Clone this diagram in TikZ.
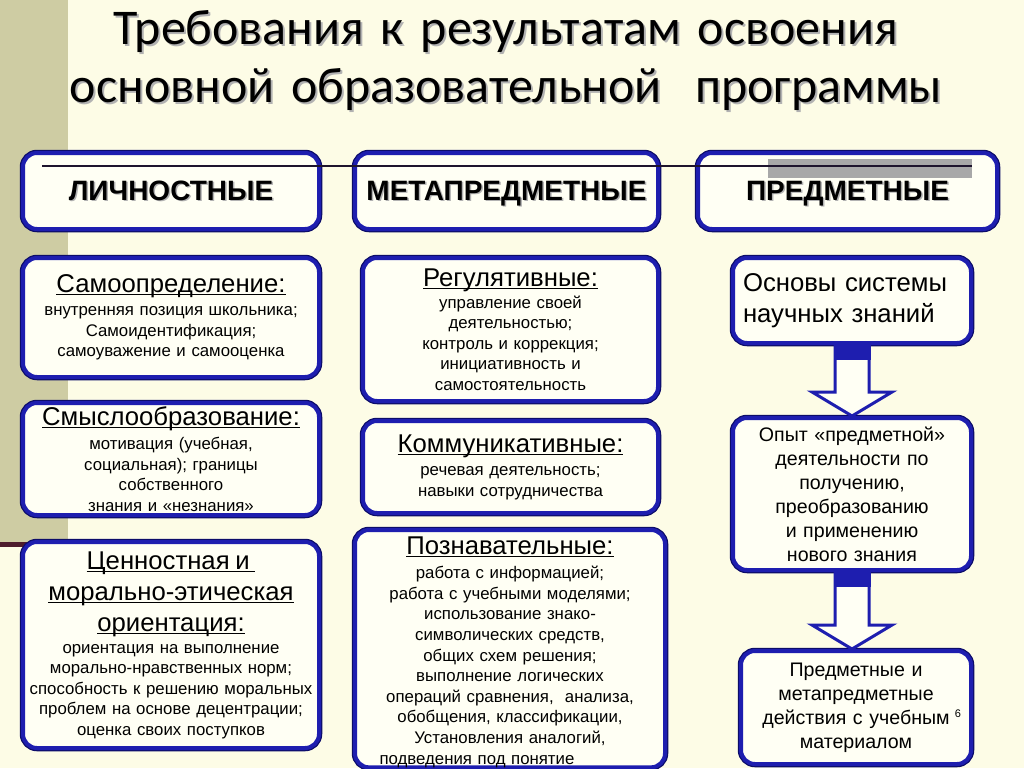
\documentclass[tikz,border=0pt]{standalone}
\usepackage{fontspec}
\setmainfont{Liberation Sans}
\newfontfamily\judulfont{Carlito}
\usetikzlibrary{calc}

\definecolor{latar}{RGB}{253,252,230}
\definecolor{pita}{RGB}{206,204,163}
\definecolor{merah}{RGB}{78,28,44}
\definecolor{biru}{RGB}{30,30,175}
\definecolor{birutua}{RGB}{12,12,105}
\definecolor{isi}{RGB}{255,255,244}
\definecolor{abu}{RGB}{168,168,168}
\definecolor{gelap}{RGB}{30,20,45}

\newcommand{\bayang}[2][1.5pt]{\leavevmode\makebox[0pt][l]{\kern#1\raisebox{-#1}{\color{gray!60}#2}}#2}
\newcommand{\garis}[1]{\leavevmode\setbox0\hbox{#1}\rlap{\rule[-2.5pt]{\wd0}{0.9pt}}\box0}
\newcommand{\judulsub}[1]{{\fontsize{25.7}{28}\selectfont\garis{#1}}}
\newcommand{\panah}[2]{%
  \draw[panahgaris] let \p1=(#1.south), \p2=(#2.north) in
    (\x1-17pt,\y1) -- (\x1-17pt,\y2+24pt) -- (\x1-40pt,\y2+24pt) -- (\x1,\y2)
    -- (\x1+40pt,\y2+24pt) -- (\x1+17pt,\y2+24pt) -- (\x1+17pt,\y1);
  \fill[biru] let \p1=(#1.south) in (\x1-18.5pt,\y1) rectangle (\x1+18.5pt,\y1-15pt);}

\begin{document}
\begin{tikzpicture}[x=1pt,y=-1pt,
  kotak/.style={draw=biru, line width=4pt, fill=isi, rounded corners=14pt,
    preaction={draw=birutua, line width=6.5pt},
    anchor=north west, inner sep=0pt, align=center,
    font=\fontsize{16.8}{20.5}\selectfont},
  kepala/.style={kotak, minimum height=76pt, text height=18pt, text depth=0pt,
    font=\bfseries\fontsize{28}{32}\selectfont},
  panahgaris/.style={draw=biru, line width=3pt, fill=isi, line join=miter}]

  \useasboundingbox (0,0) rectangle (1024,768);
  \fill[latar] (0,0) rectangle (1024,768);
  \fill[pita] (0,0) rectangle (68,543);
  \fill[merah] (0,542) rectangle (68,547);

  % judul
  \node[text width=1000pt, align=center, anchor=north,
    font=\judulfont\fontsize{50}{58}\selectfont] (judul) at (506,7)
    {\bayang[2pt]{Требования к результатам освоения}\\
     \bayang[2pt]{основной образовательной\ \ программы}};

  % kepala kolom
  \node[kepala, text width=296pt] (lich) at (21,151) {\bayang{ЛИЧНОСТНЫЕ}};
  \node[kepala, text width=303pt] (meta) at (353,151) {\bayang{МЕТАПРЕДМЕТНЫЕ}};
  \node[kepala, text width=299pt] (pred) at (696,151) {\bayang{ПРЕДМЕТНЫЕ}};

  % kolom kiri
  \node[kotak, text width=296pt, minimum height=119pt] (samo) at (21,256)
    {\judulsub{Самоопределение:}\\[3pt]
     внутренняя позиция школьника;\\ Самоидентификация;\\ самоуважение и самооценка};
  \node[kotak, text width=296pt, minimum height=112pt] (makna) at (21,401)
    {\judulsub{Смыслообразование:}\\[4pt]
     мотивация (учебная,\\ социальная); границы\\ собственного\\ знания и «незнания»};
  \node[kotak, text width=296pt, minimum height=206pt] (nilai) at (21,540)
    {\judulsub{Ценностная и\ }\\[10.5pt]
     \judulsub{морально-этическая}\\[10.5pt]
     \judulsub{ориентация:}\\[1.5pt]
     ориентация на выполнение\\ морально-нравственных норм;\\
     способность к решению моральных\\ проблем на основе децентрации;\\
     оценка своих поступков};

  % kolom tengah
  \node[kotak, text width=295pt, minimum height=143pt] (regul) at (361,256)
    {\judulsub{Регулятивные:}\\[1pt]
     управление своей\\ деятельностью;\\ контроль и коррекция;\\
     инициативность и\\ самостоятельность};
  \node[kotak, text width=295pt, minimum height=92pt] (komun) at (361,419)
    {\judulsub{Коммуникативные:}\\[3pt]
     речевая деятельность;\\ навыки сотрудничества};
  \node[kotak, text width=310pt, minimum height=237pt,
    font=\fontsize{16.8}{20.6}\selectfont] (poznav) at (353,528)
    {\rule{0pt}{24pt}\judulsub{Познавательные:}\\[4pt]
     работа с информацией;\\ работа с учебными моделями;\\
     использование знако-\\ символических средств,\\ общих схем решения;\\
     выполнение логических\\ операций сравнения,\ \ анализа,\\
     обобщения, классификации,\\ Установления аналогий,\\
     \hspace*{-66pt}подведения под понятие};

  % kolom kanan
  \node[kotak, text width=218pt, inner xsep=10pt, minimum height=85pt, align=left,
    font=\fontsize{25.7}{31}\selectfont] (osnova) at (731,256)
    {Основы системы\\ научных знаний};
  \node[kotak, text width=238pt, minimum height=152pt,
    font=\fontsize{19.6}{24}\selectfont] (opyt) at (731,416)
    {Опыт «предметной»\\ деятельности по\\ получению,\\ преобразованию\\
     и применению\\ нового знания};
  \node[kotak, text width=230pt, minimum height=113pt,
    font=\fontsize{19.6}{24}\selectfont] (dejst) at (739,649)
    {Предметные и\\ метапредметные\\ действия с учебным\\ материалом};

  \panah{osnova}{opyt}
  \panah{opyt}{dejst}

  % garis atas
  \fill[abu] (768,159) rectangle (972,178);
  \draw[line width=2pt, gelap] (42,166) -- (972,166);

  \node[font=\fontsize{11}{13}\selectfont] (hal) at (958,714) {6};
\end{tikzpicture}
\end{document}
